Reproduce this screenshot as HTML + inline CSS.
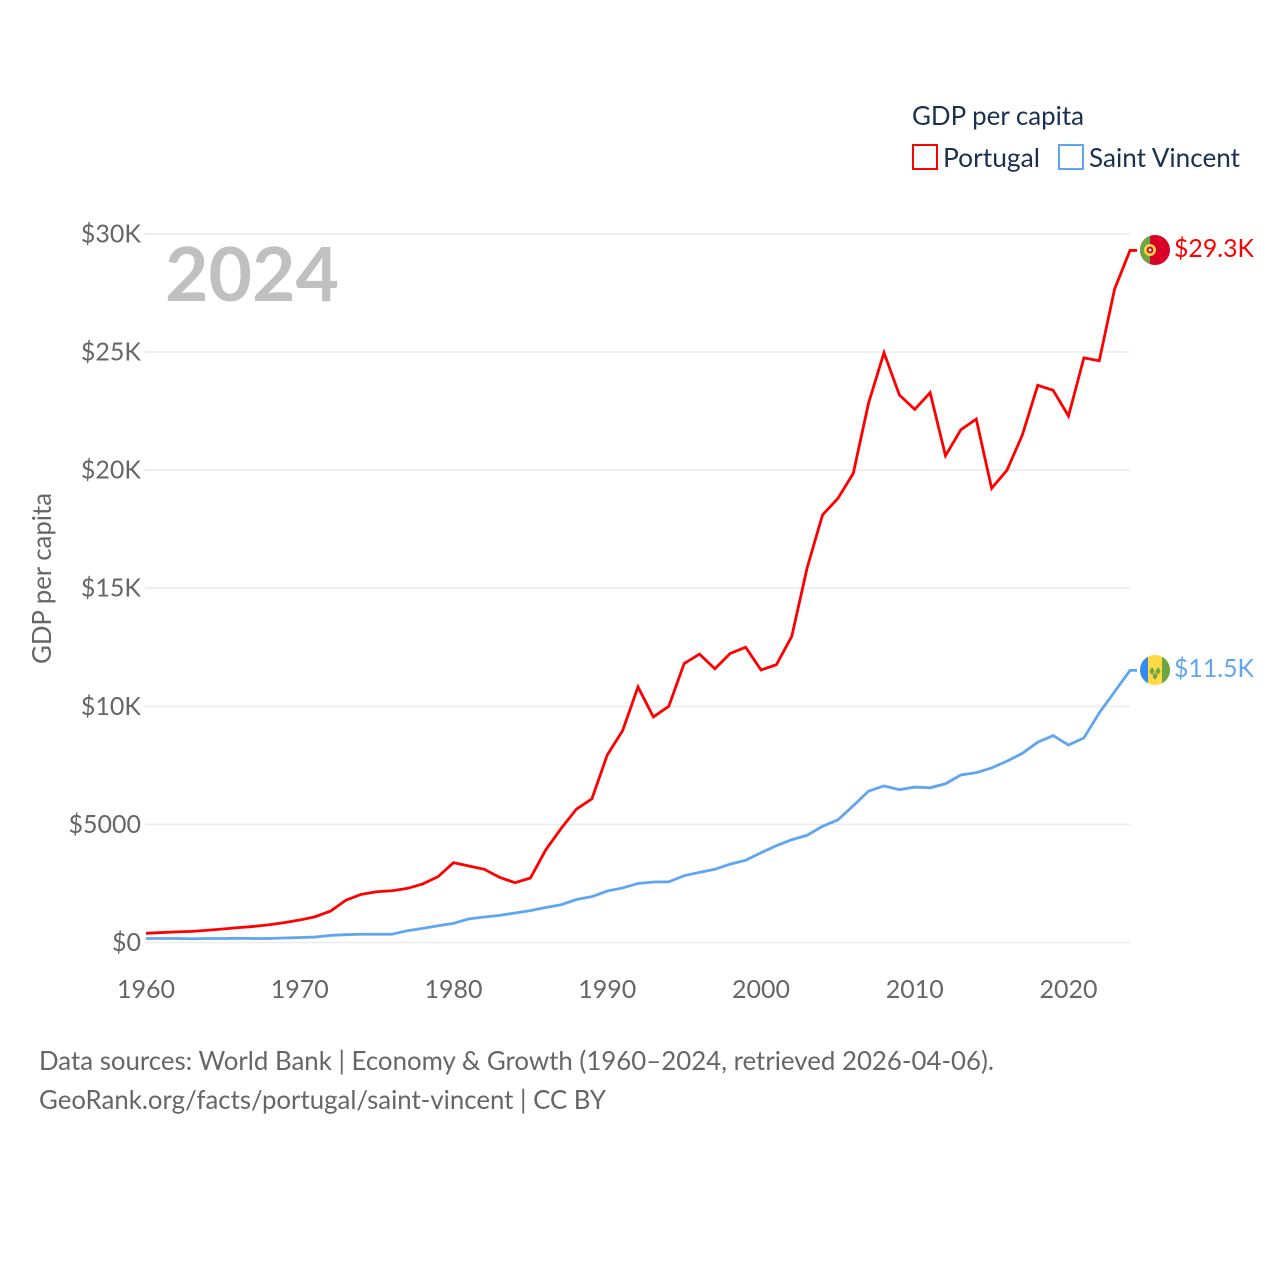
<!DOCTYPE html>
<html lang="en">
<head>
<meta charset="utf-8">
<title>GDP per capita: Portugal and Saint Vincent</title>
<style>
html,body{margin:0;padding:0;background:#fff;width:1280px;height:1280px;overflow:hidden}
svg{display:block}
text{font-family:"Lato","Carlito","Liberation Sans",sans-serif}
</style>
</head>
<body>
<svg id="chart" xmlns="http://www.w3.org/2000/svg" width="1280" height="1280" viewBox="0 0 1280 1280">
  <defs>
    <clipPath id="flag-clip-pt"><circle cx="1155" cy="250" r="15"/></clipPath>
    <clipPath id="flag-clip-vc"><circle cx="1155" cy="670" r="15"/></clipPath>
  </defs>
  <g id="grid"></g>
  <g id="yticks"></g>
  <g id="xticks"></g>
  <text x="165" y="301" font-size="75" font-weight="700" fill="#c0c0c0">2024</text>
  <text transform="translate(51,578.5) rotate(-90)" text-anchor="middle" font-size="26" fill="#666666" textLength="171" lengthAdjust="spacingAndGlyphs">GDP per capita</text>
  <g id="series"></g>
  <g clip-path="url(#flag-clip-pt)">
    <rect x="1140" y="235" width="30" height="30" fill="#d80027"/>
    <rect x="1140" y="235" width="10" height="30" fill="#6da544"/>
    <circle cx="1150" cy="250" r="6" fill="#ffda44"/>
    <circle cx="1150" cy="250" r="3.400" fill="#d80027"/>
    <circle cx="1150" cy="250" r="1.500" fill="#eeeeee"/>
  </g>
  <g clip-path="url(#flag-clip-vc)">
    <rect x="1140" y="655" width="30" height="30" fill="#ffda44"/>
    <rect x="1140" y="655" width="8" height="30" fill="#338af3"/>
    <rect x="1162" y="655" width="8" height="30" fill="#6da544"/>
    <path d="M1152 667l2.600 4-2.600 4-2.600-4zM1158 667l2.600 4-2.600 4-2.600-4zM1155 672l2.600 4-2.600 4-2.600-4z" fill="#6da544"/>
  </g>
  <text id="label-pt" x="1174" y="257" font-size="25" fill="#ff0000" textLength="80" lengthAdjust="spacingAndGlyphs"></text>
  <text id="label-vc" x="1174" y="677" font-size="25" fill="#60a5f0" textLength="80" lengthAdjust="spacingAndGlyphs"></text>
  <g>
    <text x="912" y="125" font-size="26" fill="#1a3050" textLength="172" lengthAdjust="spacingAndGlyphs">GDP per capita</text>
    <g>
      <rect x="913" y="145" width="24" height="24" fill="none" stroke="#ff0000" stroke-width="2"/>
      <text x="943" y="167" font-size="26" fill="#1a3050" textLength="97" lengthAdjust="spacingAndGlyphs">Portugal</text>
    </g>
    <g>
      <rect x="1059" y="145" width="24" height="24" fill="none" stroke="#60a5f0" stroke-width="2"/>
      <text x="1089" y="167" font-size="26" fill="#1a3050" textLength="151" lengthAdjust="spacingAndGlyphs">Saint Vincent</text>
    </g>
  </g>
  <text x="39" y="1070" font-size="26" fill="#666666" textLength="955" lengthAdjust="spacingAndGlyphs">Data sources: World Bank | Economy &amp; Growth (1960–2024, retrieved 2026-04-06).</text>
  <text x="39" y="1109" font-size="26" fill="#666666" textLength="567" lengthAdjust="spacingAndGlyphs">GeoRank.org/facts/portugal/saint-vincent | CC BY</text>
</svg>
<script>
const firstYear = 1960;
const portugal = [0.39,0.42,0.45,0.47,0.52,0.57,0.63,0.68,0.75,0.84,0.95,1.09,1.33,1.79,2.04,2.15,2.19,2.29,2.48,2.79,3.38,3.24,3.10,2.76,2.53,2.73,3.92,4.83,5.65,6.08,7.94,8.97,10.82,9.55,10.00,11.81,12.21,11.59,12.24,12.50,11.54,11.76,12.96,15.86,18.10,18.80,19.86,22.85,24.97,23.18,22.57,23.28,20.61,21.71,22.16,19.23,20.00,21.49,23.59,23.38,22.29,24.75,24.63,27.67,29.30];
const saintVincent = [0.17,0.17,0.17,0.16,0.17,0.17,0.18,0.17,0.17,0.19,0.21,0.23,0.30,0.33,0.35,0.35,0.35,0.50,0.60,0.71,0.81,1.00,1.08,1.15,1.25,1.35,1.48,1.60,1.82,1.94,2.18,2.31,2.50,2.56,2.57,2.83,2.97,3.10,3.32,3.48,3.80,4.10,4.35,4.54,4.92,5.19,5.79,6.41,6.63,6.47,6.58,6.55,6.72,7.09,7.19,7.39,7.68,8.01,8.48,8.76,8.36,8.66,9.72,10.62,11.52];
const yTicks = [0,5,10,15,20,25,30];
const yTickLabels = ["$0","$5000","$10K","$15K","$20K","$25K","$30K"];
const xTicks = [1960,1970,1980,1990,2000,2010,2020];
const valueLabels = ["$29.3K","$11.5K"];

const NS = "http://www.w3.org/2000/svg";
function xScale(year){ return 146 + (year - 1960) * 15.375; }
function yScale(v){ return 942.5 - v * 23.62; }

const grid = document.getElementById("grid");
const yGroup = document.getElementById("yticks");
const xGroup = document.getElementById("xticks");
const seriesGroup = document.getElementById("series");

yTicks.forEach(function(t, i){
  const line = document.createElementNS(NS, "line");
  
  
  line.setAttribute("x1", 145);
  line.setAttribute("x2", 1130);
  line.setAttribute("y1", yScale(t));
  line.setAttribute("y2", yScale(t));
  line.setAttribute("stroke", "#ececec");
  line.setAttribute("stroke-width", 1.6);
  grid.appendChild(line);

  const label = document.createElementNS(NS, "text");
  
  
  label.textContent = yTickLabels[i];
  label.setAttribute("x", 141);
  label.setAttribute("y", yScale(t) + 8.5);
  label.setAttribute("text-anchor", "end");
  label.setAttribute("font-size", 25);
  label.setAttribute("fill", "#666666");
  yGroup.appendChild(label);
});

xTicks.forEach(function(t){
  const label = document.createElementNS(NS, "text");
  
  
  label.textContent = String(t);
  label.setAttribute("x", xScale(t));
  label.setAttribute("y", 998);
  label.setAttribute("text-anchor", "middle");
  label.setAttribute("font-size", 25);
  label.setAttribute("fill", "#666666");
  xGroup.appendChild(label);
});

function linePath(values){
  let d = "";
  values.forEach(function(v, i){
    d += (i ? "L" : "M") + xScale(firstYear + i).toFixed(2) + " " + yScale(v).toFixed(2);
  });
  const last = values[values.length - 1];
  d += "L" + (xScale(firstYear + values.length - 1) + 7).toFixed(2) + " " + yScale(last).toFixed(2);
  return d;
}

const ptLine = document.createElementNS(NS, "path");


ptLine.setAttribute("d", linePath(portugal));
ptLine.setAttribute("fill", "none");
ptLine.setAttribute("stroke", "#ff0000");
ptLine.setAttribute("stroke-width", 2.8);
seriesGroup.appendChild(ptLine);

const vcLine = document.createElementNS(NS, "path");


vcLine.setAttribute("d", linePath(saintVincent));
vcLine.setAttribute("fill", "none");
vcLine.setAttribute("stroke", "#60a5f0");
vcLine.setAttribute("stroke-width", 2.8);
seriesGroup.appendChild(vcLine);

document.getElementById("label-pt").textContent = valueLabels[0];
document.getElementById("label-vc").textContent = valueLabels[1];
</script>
</body>
</html>
